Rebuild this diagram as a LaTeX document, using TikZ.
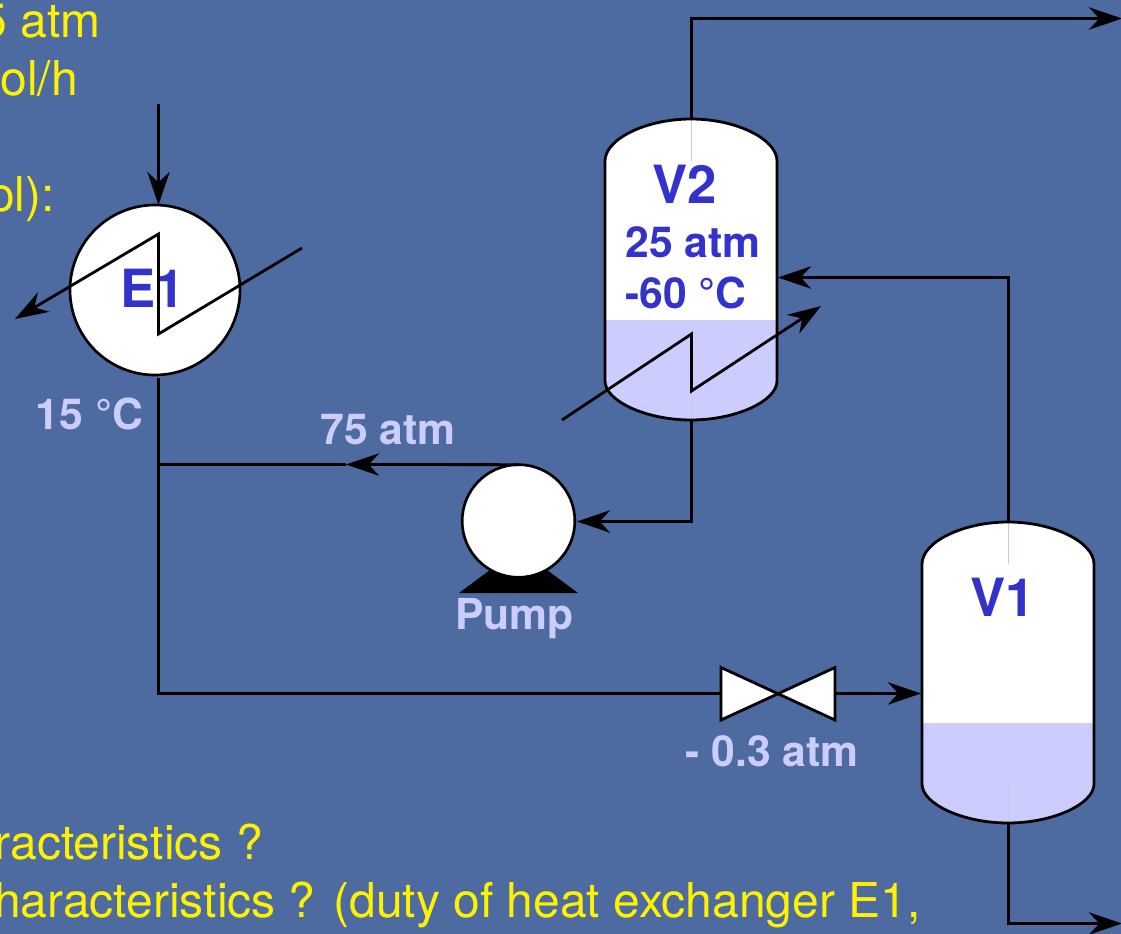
\documentclass[tikz,border=0pt]{standalone}
\usepackage{fontspec}
\setmainfont{TeX Gyre Heros}
\usetikzlibrary{arrows.meta}
\definecolor{slide}{RGB}{77,107,160}
\definecolor{liquid}{RGB}{204,204,255}
\definecolor{tagblue}{RGB}{51,51,204}
\definecolor{seam}{RGB}{190,205,225}
\tikzset{
	pipe/.style={line width=2.1pt, black},
	>={Stealth[length=25pt, width=17pt, inset=8pt, line width=0pt]},
	slidetext/.style={anchor=base east, yellow, inner sep=0pt, font=\fontsize{36}{40}\selectfont},
	tag/.style={anchor=base, tagblue, inner sep=0pt, font=\fontsize{32}{36}\selectfont\bfseries},
	bigtag/.style={tag, font=\fontsize{39.5}{44}\selectfont\bfseries},
	note/.style={anchor=base, liquid, inner sep=0pt, font=\fontsize{32}{36}\selectfont\bfseries},
	unit/.style={circle, draw, fill=white, line width=2pt, inner sep=0pt, outer sep=0pt}
}
% vessel: name, top centre
\newcommand{\vessel}[2]{
	\begin{scope}[shift={#2}]
		\def\shell{(-86,42) .. controls (-86,20) and (-45,0) .. (0,0) .. controls (45,0) and (86,20) .. (86,42) -- (86,262) .. controls (86,282) and (45,301) .. (0,301) .. controls (-45,301) and (-86,282) .. (-86,262) -- cycle}
		\fill[white] \shell;
		\begin{scope}
			\clip \shell;
			\fill[liquid] (-90,201) rectangle (90,305);
		\end{scope}
		\draw[seam, line width=0.5pt] (0,0) -- (0,42);
		\draw[seam, line width=0.5pt] (0,262) -- (0,301);
		\draw[pipe] \shell;
		\coordinate (#1top) at (0,0);
		\coordinate (#1bot) at (0,301);
	\end{scope}
}
\begin{document}
\begin{tikzpicture}[x=0.75pt, y=-0.75pt]
	\path[use as bounding box, clip] (0,0) rectangle (1121,934);
	\fill[slide] (0,0) rectangle (1121,934);

	% text cut off by the left edge
	\node[slidetext] (line1) at (101,38) {5 atm};
	\node[slidetext] (line2) at (78,96) {ol/h};
	\node[slidetext] (line3) at (55,212) {ol):};
	\node[slidetext] (line4) at (263,859) {racteristics ?};
	\node[slidetext] (line5) at (921,917) {haracteristics ? (duty of heat exchanger E1,};

	% vessels
	\vessel{vtwo}{(691,119)}
	\vessel{vone}{(1008,522)}
	\node[bigtag] (vtwolabel) at (685,204) {V2};
	\node[tag] (vtwop) at (693,258) {25 atm};
	\node[tag] (vtwot) at (686,309) {-60 °C};
	\node[bigtag] (vonelabel) at (1003,616) {V1};

	% exchanger and pump
	\node[unit, minimum size=127.5pt] (eone) at (155,290) {};
	\node[bigtag] (eonelabel) at (153,308) {E1};
	\fill[black] (459,593) -- (490,570) -- (547,570) -- (578,593) -- cycle;
	\node[unit, minimum size=84.5pt] (pump) at (518.5,521) {};

	\coordinate (feed) at (158.5,104);
	\coordinate (eoneout) at (158.5,378);
	\coordinate (tee) at (158.5,464.5);
	\coordinate (corner) at (158.5,693.5);
	\coordinate (teearrow) at (346,464.5);
	\coordinate (vonein) at (921,693.5);
	\coordinate (vtwoin) at (778,277.5);
	\coordinate (vtwopipe) at (1008.5,277.5);
	\coordinate (toppipe) at (691.5,18.5);
	\coordinate (gasout) at (1122,18.5);
	\coordinate (botpipe) at (1008.5,923.5);
	\coordinate (liqout) at (1122,923.5);
	\coordinate (pumpcorner) at (691.5,521.5);
	\coordinate (pumpin) at (577,521.5);

	% valve
	\coordinate (valvein) at (721,693.5);
	\coordinate (valveout) at (835,693.5);
	\draw[pipe, fill=white, line join=miter] (valvein) -- ++(0,-26) -- (valveout |- 0,720) -- (valveout) -- ++(0,-26) -- (valvein |- 0,720) -- cycle;

	% pipes
	\draw[pipe, ->] (feed) -- (feed |- eone.north);
	\draw[pipe] (eoneout) -- (corner) -- (valvein);
	\draw[pipe, ->] (valveout) -- (vonein);
	\draw[pipe, ->] (pump.north -| 518,0 |- tee) -- (teearrow);
	\draw[pipe] (teearrow) -- (tee);
	\draw[pipe, ->] (vtwobot -| pumpcorner) -- (pumpcorner) -- (pumpin);
	\draw[pipe, ->] (vonetop -| vtwopipe) -- (vtwopipe) -- (vtwoin);
	\draw[pipe, ->] (vtwotop -| toppipe) -- (toppipe) -- (gasout);
	\draw[pipe, ->] (vonebot -| botpipe) -- (botpipe) -- (liqout);

	% coils
	\draw[pipe, ->, line join=miter] (302,248) -- (158.5,334) -- (158.5,234) -- (15,319);
	\draw[pipe, ->, line join=miter] (562,420) -- (691.5,334) -- (691.5,391) -- (821,306);

	% labels
	\node[note] (tempone) at (89.5,429) {15 °C};
	\node[note] (highp) at (388,444) {75 atm};
	\node[note] (pumplabel) at (514.5,629) {Pump};
	\node[note] (valvedrop) at (772,766) {- 0.3 atm};
\end{tikzpicture}
\end{document}
